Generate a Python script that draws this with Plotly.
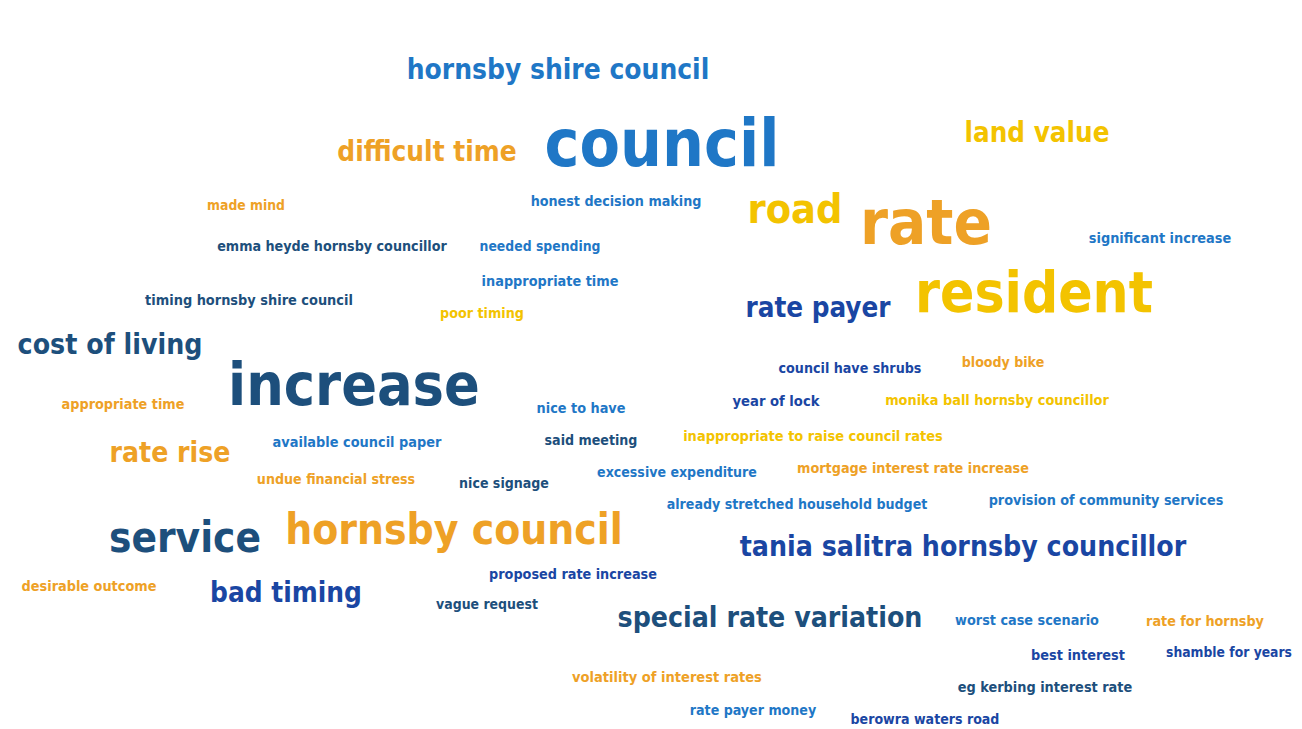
import plotly.graph_objects as go

# ---- data: words of the cloud and their colour group ----
words = [
    "hornsby shire council", "council", "difficult time", "land value", "made mind",
    "honest decision making", "road", "rate", "emma heyde hornsby councillor",
    "needed spending", "significant increase", "inappropriate time",
    "timing hornsby shire council", "poor timing", "rate payer", "resident",
    "cost of living", "increase", "council have shrubs", "bloody bike",
    "appropriate time", "nice to have", "year of lock", "monika ball hornsby councillor",
    "available council paper", "said meeting", "inappropriate to raise council rates",
    "rate rise", "undue financial stress", "excessive expenditure",
    "mortgage interest rate increase", "nice signage", "already stretched household budget",
    "provision of community services", "service", "hornsby council",
    "tania salitra hornsby councillor", "desirable outcome", "proposed rate increase",
    "bad timing", "vague request", "special rate variation", "worst case scenario",
    "rate for hornsby", "best interest", "shamble for years",
    "volatility of interest rates", "eg kerbing interest rate", "rate payer money",
    "berowra waters road",
]
groups = [
    "blue", "blue", "orange", "yellow", "orange",
    "blue", "yellow", "orange", "navy",
    "blue", "blue", "blue",
    "navy", "yellow", "royal", "yellow",
    "navy", "navy", "royal", "orange",
    "orange", "blue", "royal", "yellow",
    "blue", "navy", "yellow",
    "orange", "orange", "blue",
    "orange", "navy", "blue",
    "blue", "navy", "orange",
    "royal", "orange", "royal",
    "royal", "navy", "navy", "blue",
    "orange", "royal", "royal",
    "orange", "navy", "blue",
    "royal",
]

# ---- layout: centre position and rendered width (px) of each word ----
pos_x = [558, 662, 427, 1037, 246, 616, 795, 926, 332, 540, 1160, 550, 249, 482, 818, 1034,
         110, 354, 850, 1003, 123, 581, 776, 997, 357, 591, 813, 170, 336, 677, 913, 504, 797,
         1106, 185, 454, 963, 89, 573, 286, 487, 770, 1027, 1205, 1078, 1229, 667, 1045, 753, 925]
pos_y = [72, 150, 154, 135, 207, 202, 213, 228, 247, 248, 239, 282, 301, 314, 310, 298,
         347, 390, 369, 363, 405, 409, 402, 401, 443, 441, 437, 455, 480, 473, 469, 484, 505,
         501, 542, 533, 549, 587, 575, 595, 606, 620, 621, 622, 656, 654, 678, 688, 711, 720]
span = [303, 235, 182, 145, 78, 171, 95, 132, 230, 121, 143, 137, 208, 84, 146, 238,
        185, 252, 143, 83, 123, 89, 87, 224, 169, 93, 260, 121, 159, 160, 232, 90, 261,
        235, 152, 338, 447, 135, 168, 152, 102, 305, 144, 118, 94, 126, 190, 175, 127, 149]

palette = {
    "navy": "#1d4f7c",
    "blue": "#1f77c6",
    "royal": "#1a46a3",
    "orange": "#eea126",
    "yellow": "#f3c300",
}

# advance widths (per 1000 em) of DejaVu Sans Bold; condensed face is ~0.9 of these
cw = dict(a=675, b=716, c=593, d=716, e=678, f=435, g=716, h=712, i=343, j=343, k=665,
          l=343, m=1042, n=712, o=687, p=716, q=716, r=493, s=595, t=478, u=712, v=652,
          w=924, x=645, y=652, z=582)
cw[" "] = 348
COND = 0.9
OFF = 8  # page body margin


def fsize(word, width):
    em = sum(cw.get(ch, 650) for ch in word) / 1000 * COND
    return width / em


fig = go.Figure()
for g, col in palette.items():
    idx = [i for i, gg in enumerate(groups) if gg == g]
    fig.add_trace(go.Scatter(
        x=[pos_x[i] for i in idx],
        y=[pos_y[i] for i in idx],
        text=[words[i] for i in idx],
        mode="text",
        textposition="middle center",
        cliponaxis=False,
        textfont=dict(
            family="DejaVu Sans Condensed",
            size=[fsize(words[i], span[i]) for i in idx],
            color=col,
            weight="bold",
        ),
        hoverinfo="skip",
        showlegend=False,
    ))

fig.update_layout(
    width=1302, height=729,
    margin=dict(l=0, r=0, t=0, b=0),
    paper_bgcolor="white", plot_bgcolor="white",
    xaxis=dict(range=[OFF, 1302 + OFF], visible=False, fixedrange=True),
    yaxis=dict(range=[729 + OFF, OFF], visible=False, fixedrange=True),
)
fig.write_html("out.html")
